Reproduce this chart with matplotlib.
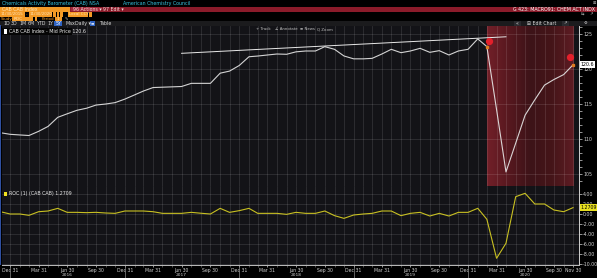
import matplotlib
matplotlib.use("Agg")
import matplotlib.pyplot as plt
import matplotlib.dates as mdates
import matplotlib.transforms as mtrans
from matplotlib.patches import Rectangle
from matplotlib.colors import LinearSegmentedColormap
import numpy as np
import pandas as pd

# ---------------- data ----------------
months = pd.date_range("2015-11-30", "2020-11-30", freq="ME")
cab_index = [110.9, 110.67, 110.58, 110.5, 111.1, 111.8, 113.1, 113.6, 114.1, 114.4,
             114.85, 115.0, 115.2, 115.7, 116.3, 116.85, 117.35, 117.4, 117.45, 117.5,
             117.95, 117.95, 117.95, 119.4, 119.7, 120.5, 121.75, 121.85, 122.0, 122.14,
             122.1, 122.45, 122.57, 122.57, 123.19, 122.81, 121.86, 121.45, 121.45, 121.52,
             122.14, 122.81, 122.33, 122.57, 122.95, 122.38, 122.62, 122.0, 122.57, 122.81,
             124.3, 123.2, 114.2, 105.3, 109.4, 113.4, 115.6, 117.7, 118.5, 119.2, 120.6]
roc_values = [0.46, 0.0, 0.0, -0.27, 0.46, 0.6, 1.13, 0.33, 0.33, 0.27,
              0.33, 0.2, 0.13, 0.6, 0.6, 0.6, 0.46, 0.13, 0.13, 0.13,
              0.33, 0.15, 0.0, 1.13, 0.33, 0.67, 1.13, 0.13, 0.13, 0.13,
              -0.07, 0.33, 0.13, 0.13, 0.6, -0.33, -0.87, -0.2, 0.0, 0.13,
              0.6, 0.6, -0.33, 0.13, 0.33, -0.4, 0.13, -0.4, 0.33, 0.33,
              1.14, -1.06, -8.86, -5.86, 3.46, 4.14, 2.0, 2.0, 0.8, 0.46, 1.27]
trend_dates = pd.to_datetime(["2017-06-30", "2020-04-30"])
trend_values = [122.24, 124.6]
pin_dates = pd.to_datetime(["2020-03-08", "2020-11-20"])
pin_values = [124.04, 121.67]
highlight_start = pd.Timestamp("2020-02-29")
highlight_end = pd.Timestamp("2020-11-30")
main_ticks = [105, 110, 115, 120, 125]
roc_ticks = [4, 2, 0, -2, -4, -6, -8, -10]
last_cab_label = "120.6"
last_roc_label = "1.2709"

W, H = 597, 278
fig = plt.figure(figsize=(W / 100, H / 100), dpi=100, facecolor="black")
plt.rcParams["font.family"] = ["DejaVu Sans"]


def rect(x0, y0, x1, y1, color, z=1):
    fig.add_artist(Rectangle((x0 / W, 1 - y1 / H), (x1 - x0) / W, (y1 - y0) / H,
                             transform=fig.transFigure, color=color, zorder=z, lw=0))


def txt(x, y, s, color, size=3.4, ha="left", weight="normal", z=3):
    fig.text(x / W, 1 - y / H, s, color=color, fontsize=size, ha=ha, va="center",
             weight=weight, zorder=z)


def ax_rect(x0, y0, x1, y1):
    return [x0 / W, 1 - y1 / H, (x1 - x0) / W, (y1 - y0) / H]


BG = "#131317"
ax1 = fig.add_axes(ax_rect(2, 26, 579, 186))
ax2 = fig.add_axes(ax_rect(2, 186, 579, 265), sharex=ax1)
xlim = (pd.Timestamp("2015-12-05"), pd.Timestamp("2020-12-19"))

for ax in (ax1, ax2):
    ax.set_facecolor(BG)
    ax.set_axisbelow(True)
    ax.set_xticks(months, minor=True)
    ax.grid(True, which="both", axis="x", color="white", alpha=0.15, lw=0.5)
    ax.grid(True, which="major", axis="y", color="white", alpha=0.15, lw=0.5)
    ax.yaxis.tick_right()
    ax.tick_params(axis="y", which="both", colors="#cfcfcf", labelsize=3.4, length=2,
                   width=0.5, pad=1)
    for s in ("left", "top"):
        ax.spines[s].set_visible(False)
    ax.spines["right"].set_color("#d0d0d0")
    ax.spines["right"].set_linewidth(0.7)
    ax.spines["bottom"].set_color("#3a3a3a")
    ax.spines["bottom"].set_linewidth(0.5)

# ---- main panel ----
cmap = LinearSegmentedColormap.from_list("hl", ["#722029", "#57181f", "#3d1318", "#451519", "#5e1c23"])
grad = np.linspace(0, 1, 256).reshape(1, -1)
ylim1 = (103.29, 126.14)
ax1.imshow(grad, cmap=cmap, aspect="auto", zorder=0,
           extent=[mdates.date2num(highlight_start), mdates.date2num(highlight_end), ylim1[0], ylim1[1]])
ax1.plot(months, cab_index, color="#e8e8e8", lw=0.8, alpha=0.9, zorder=3)
ax1.plot(trend_dates, trend_values, color="#e8e8e8", lw=0.7, zorder=3)
ax1.plot([highlight_start, highlight_end],
         [cab_index[list(months).index(highlight_start)], cab_index[-1]],
         ls="none", marker="s", ms=1.4, color="#e07a20", zorder=4)
ax1.plot(pin_dates, pin_values, ls="none", marker="o", ms=4.2, color="#e3202b", zorder=5)
ax1.set_xlim(xlim)
ax1.set_ylim(ylim1)
ax1.set_yticks(main_ticks)
ax1.set_yticklabels([str(t) for t in main_ticks])
ax1.set_yticks(np.arange(104, 127, 1), minor=True)
ax1.tick_params(axis="x", which="both", labelbottom=False, length=0)
bt = mtrans.blended_transform_factory(ax1.transAxes, ax1.transData)
ax1.text(1.003, cab_index[-1], last_cab_label, transform=bt, fontsize=3.4, color="black",
         va="center", ha="left", bbox=dict(fc="white", ec="none", pad=0.6), zorder=6)

# ---- ROC panel ----
ax2.plot(months, roc_values, color="#c8c022", lw=0.8, zorder=3)
ax2.set_ylim(-10.2, 5.6)
ax2.set_yticks(roc_ticks)
ax2.set_yticklabels([f"{t:.2f}" for t in roc_ticks])
ax2.spines["bottom"].set_color("#bdbdbd")
ax2.spines["bottom"].set_linewidth(0.7)
quarters = [d for d in months if d.month in (3, 6, 9, 12)] + [months[-1]]
ax2.set_xticks(quarters)
ax2.set_xticklabels([f"{d:%b} {d.day}" for d in quarters])
ax2.tick_params(axis="x", which="major", colors="#cfcfcf", labelsize=3.3, length=1.5,
                width=0.5, pad=0.6)
ax2.tick_params(axis="x", which="minor", color="#888888", length=1.2, width=0.4)
bt2 = mtrans.blended_transform_factory(ax2.transAxes, ax2.transData)
ax2.text(1.003, roc_values[-1], last_roc_label, transform=bt2, fontsize=3.4, color="black",
         va="center", ha="left", bbox=dict(fc="#e8e020", ec="none", pad=0.6), zorder=6)
bx = mtrans.blended_transform_factory(ax2.transData, ax2.transAxes)
for d in months:
    if d.month == 12 and d.year < 2020:
        ax2.plot([d, d], [0, -0.17], transform=bx, clip_on=False, color="#8a8a8a", lw=0.5)
    if d.month == 6:
        ax2.text(d, -0.13, str(d.year), transform=bx, fontsize=3.2, color="#cfcfcf",
                 ha="center", va="center")

# ---- legends ----
rect(2, 28, 72, 35, "#050505", z=4)
rect(4, 29.5, 7.5, 33.5, "white", z=5)
txt(9, 31.5, "CAB CAB Index - Mid Price 120.6", "#e8e8e8", z=5)
rect(4, 191.5, 7.5, 195.5, "#f0e020", z=5)
txt(9, 193.5, "ROC (1) (CAB CAB) 1.2709", "#e8e8e8", z=5)
rect(0, 25, 1.3, 265, "#2f4f9f", z=4)

# ---- header ----
rect(0, 0, W, 6.5, "black")
txt(2, 3.3, "Chemicals Activity Barometer (CAB) NSA", "#36c3e0")
txt(123, 3.3, "American Chemistry Council", "#36c3e0")
txt(593, 2.5, "⊞", "#bbbbbb", size=3)
rect(0, 6.5, W, 11.8, "#8b1b2a")
rect(0, 6.5, 70, 11.8, "#f39a26", z=2)
txt(2, 9.2, "CAB CAB Index", "#ffe3b5")
rect(71, 7, 100, 11.4, "#a3283a", z=2)
txt(73, 9.2, "96 Actions ▾", "#f4dcdc")
txt(103, 9.2, "97 Edit ▾", "#f4dcdc")
txt(595, 9.2, "G 423: MACRO91: CHEM ACT INDX", "white", ha="right")
rect(0, 12.2, 25, 16.6, "#f39a26", z=2)
txt(1, 14.4, "11/30/2015", "#ffe3b5", size=2.9)
txt(26.2, 14.4, "-", "#f39a26", size=2.9)
rect(29, 12.2, 52, 16.6, "#f39a26", z=2)
txt(30, 14.4, "11/30/2020", "#ffe3b5", size=2.9)
for x0 in (53, 56.5, 60):
    rect(x0, 12.2, x0 + 2.8, 16.6, "#f39a26", z=2)
rect(68, 12.2, 88, 16.6, "#f39a26", z=2)
txt(69, 14.4, "Local CCY", "#ffe3b5", size=3.0)
rect(89, 12.2, 91.5, 16.6, "#f39a26", z=2)
txt(581, 14.4, "⇆", "#cccccc", size=3)
txt(589, 14.4, "↗", "#cccccc", size=3)
txt(0.5, 19, "Study", "#f39a26", size=2.9)
rect(12, 17, 33, 21, "#f39a26", z=2)
txt(14, 19, "ROC", "#ffe3b5", size=3.0)
rect(35, 17, 37.5, 21, "#f39a26", z=2)
txt(41.5, 19, "Period", "#f39a26", size=2.9)
rect(55, 17, 62, 21, "#f39a26", z=2)
txt(57, 19, "1", "#ffe3b5", size=3.0)
txt(65, 19, "✎", "#cccccc", size=3)
rect(0, 21, W, 26, "#1b1b1d")
for x0, s in [(3, "1D"), (10.5, "3D"), (19, "1M"), (28, "6M"), (37, "YTD"), (47, "1Y"),
              (65, "Max"), (75, "Daily ▾"), (100, "Table")]:
    txt(x0, 23.5, s, "#d8d8d8")
rect(54, 21.5, 62, 25.5, "#2e62c0", z=2)
txt(55.5, 23.5, "5Y", "white")
rect(90, 21.5, 95.5, 25.5, "#2e62c0", z=2)
txt(91, 23.5, "≡", "white", size=3)
rect(514, 21.5, 521, 25.5, "#2a2a2e", z=2)
txt(515.5, 23.5, "«", "#d8d8d8")
txt(527, 23.5, "⊞ Edit Chart", "#d8d8d8")
rect(562, 21.5, 569, 25.5, "#2a2a2e", z=2)
txt(563.5, 23.5, "↗", "#d8d8d8", size=3)
txt(584, 23.5, "⚙", "#d8d8d8", size=3)
for x0, s in [(256, "+ Track"), (275, "∠ Annotate"), (300, "≡ News"), (317, "Q Zoom")]:
    txt(x0, 29.3, s, "#c0c0c0", size=2.8, z=5)

fig.savefig("out.png", dpi=100, facecolor="black")
